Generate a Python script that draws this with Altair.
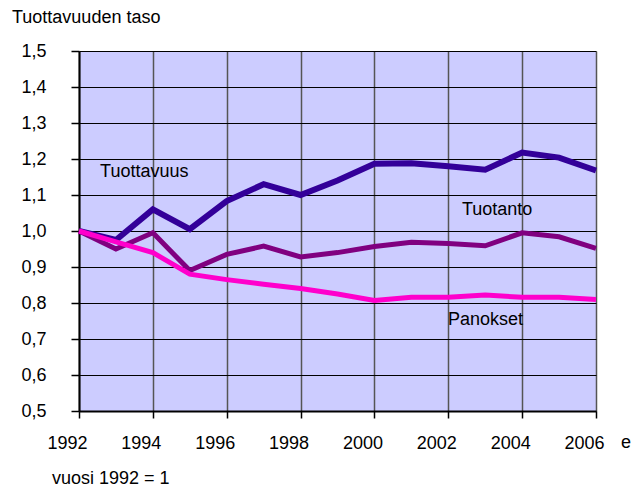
import altair as alt
import pandas as pd

years = list(range(1992, 2007))
tuottavuus = [1.0, 0.975, 1.06, 1.005, 1.083, 1.13, 1.10, 1.14, 1.187, 1.188, 1.18, 1.17, 1.218, 1.204, 1.168]
tuotanto = [1.0, 0.95, 0.995, 0.89, 0.935, 0.958, 0.928, 0.94, 0.957, 0.969, 0.965, 0.959, 0.995, 0.984, 0.952]
panokset = [1.0, 0.97, 0.94, 0.88, 0.865, 0.852, 0.84, 0.825, 0.807, 0.816, 0.816, 0.822, 0.816, 0.816, 0.81]

series_names = ["Tuottavuus", "Tuotanto", "Panokset"]
series_colors = ["#330099", "#800080", "#FF00CC"]
series_widths = [6, 5, 5]

label_x = [1992.57, 2002.37, 2001.99]
label_y = [1.164, 1.058, 0.753]

FONT = "Liberation Sans"
FS = 18

rows = []
for name, vals in zip(series_names, [tuottavuus, tuotanto, panokset]):
    for y, v in zip(years, vals):
        rows.append({"vuosi": y, "arvo": v, "sarja": name})
df = pd.DataFrame(rows)

xscale = alt.Scale(domain=[1992, 2006], nice=False, zero=False)
yscale = alt.Scale(domain=[0.5, 1.5], nice=False, zero=False)

x_axis = alt.Axis(
    values=list(range(1992, 2007, 2)), format="d", title=None,
    labelFont=FONT, labelFontSize=FS, labelColor="black", labelOffset=-12,
    labelPadding=16, tickSize=7, tickColor="black", tickWidth=1.5,
    domainColor="black", domainWidth=2, grid=True, gridColor="#555555",
    gridWidth=1.5, labelFlush=False,
)
y_axis = alt.Axis(
    values=[round(0.5 + 0.1 * i, 1) for i in range(11)], title=None,
    labelExpr="replace(format(datum.value, '.1f'), '.', ',')",
    labelFont=FONT, labelFontSize=FS, labelColor="black",
    labelPadding=25, tickSize=8, tickColor="black", tickWidth=1.5,
    domainColor="black", domainWidth=2, grid=True, gridColor="black",
    gridWidth=1, labelFlush=False,
)

layers = []
for i, (name, col, w) in enumerate(zip(series_names, series_colors, series_widths)):
    sub = df[df["sarja"] == name]
    enc = dict(
        x=alt.X("vuosi:Q", scale=xscale, axis=x_axis),
        y=alt.Y("arvo:Q", scale=yscale, axis=y_axis),
    )
    layers.append(
        alt.Chart(sub).mark_line(color=col, strokeWidth=w, strokeJoin="miter", strokeCap="butt").encode(**enc)
    )

lab_df = pd.DataFrame({"x": label_x, "y": label_y, "t": series_names})
labels = alt.Chart(lab_df).mark_text(
    align="left", baseline="middle", font=FONT, fontSize=FS, color="black"
).encode(
    x=alt.X("x:Q", scale=xscale, axis=x_axis),
    y=alt.Y("y:Q", scale=yscale, axis=y_axis),
    text="t:N",
)

def note(txt, px, py):
    return alt.Chart(pd.DataFrame({"t": [txt]})).mark_text(
        align="left", baseline="middle", font=FONT, fontSize=FS, color="black"
    ).encode(x=alt.value(px), y=alt.value(py), text="t:N")

notes = [
    note("Tuottavuuden taso", -67, -33),
    note("vuosi 1992 = 1", -27, 428),
    note("e", 542, 392),
]

chart = alt.layer(*layers, labels, *notes).properties(
    width=517, height=360,
    background="white",
    autosize=alt.AutoSizeParams(type="none"),
    padding={"left": 71, "top": 43, "right": 35, "bottom": 78},
).configure_view(fill="#CCCCFF", stroke=None)

chart.save("out.html", embed_options={"renderer": "svg", "actions": False})
